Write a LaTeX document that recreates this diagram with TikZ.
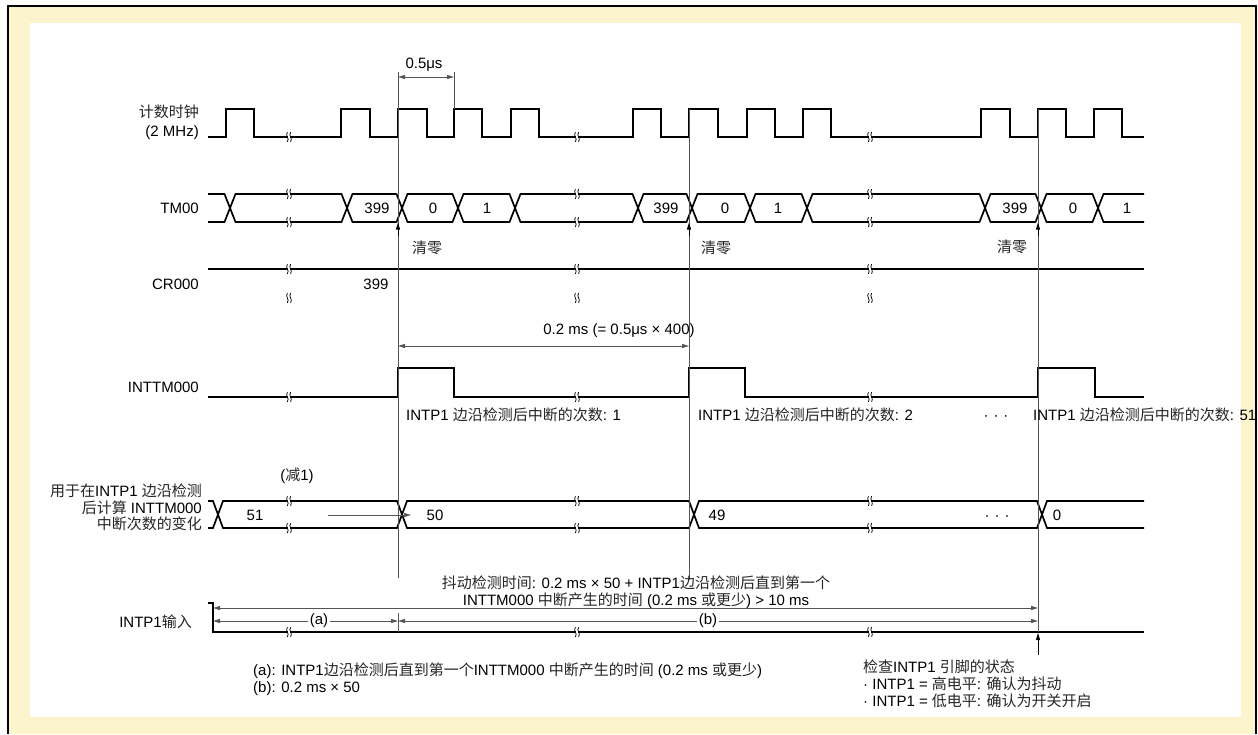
\documentclass[tikz,border=0pt]{standalone}
\usepackage{fontspec}
\setmainfont{Liberation Sans}
\newfontfamily\cjkfont{Noto Sans CJK SC}
\usetikzlibrary{arrows.meta}
\definecolor{frameyellow}{RGB}{251,244,205}
\definecolor{thingray}{RGB}{85,85,85}
\newcommand{\zh}[1]{{\cjkfont\color{black!85}#1}}
\begin{document}
\begin{tikzpicture}[x=1pt,y=-1pt,
  font=\fontsize{15}{17}\selectfont,
  sig/.style={line width=1.7pt, line join=miter, line cap=butt},
  thinline/.style={line width=0.9pt, draw=thingray},
  tipA/.tip={Triangle[length=7pt,width=4pt]},
  dim/.style={thinline, tipA-tipA},
  uparrow/.style={thinline, -tipA},
  lbl/.style={inner sep=0pt, anchor=base east},
  txt/.style={inner sep=0pt, anchor=base},
  ltxt/.style={inner sep=0pt, anchor=base west},
  brk/.pic={
    \fill[white] (-0.9,-4.5) rectangle (0.9,4.5);
    \draw[line width=0.75pt] (-1.6,-4.8) .. controls (-4.2,-1.2) and (1.0,1.2) .. (-1.6,4.8);
    \draw[line width=0.75pt] (1.6,-4.8) .. controls (-1.0,-1.2) and (4.2,1.2) .. (1.6,4.8);
  },
]
\useasboundingbox (0,0) rectangle (1258,734);
% frame
\fill[white] (0,0) rectangle (1258,734);
\fill[frameyellow] (8,6) rectangle (1256,734);
\fill[white] (30,23) rectangle (1241,717);
\draw[line width=2pt] (8,734) -- (8,6) -- (1256,6) -- (1256,734);

% ---------------- counting clock
\draw[sig] (208,137) -- (226,137) -- (226,109) -- (254,109) -- (254,137) -- (341,137) -- (341,109) -- (370,109) -- (370,137)
  -- (398,137) -- (398,109) -- (427,109) -- (427,137) -- (454,137) -- (454,109) -- (482,109) -- (482,137)
  -- (511,137) -- (511,109) -- (539,109) -- (539,137) -- (633,137) -- (633,109) -- (661,109) -- (661,137)
  -- (689,137) -- (689,109) -- (718,109) -- (718,137) -- (747,137) -- (747,109) -- (775,109) -- (775,137)
  -- (803,137) -- (803,109) -- (831,109) -- (831,137) -- (981,137) -- (981,109) -- (1010,109) -- (1010,137)
  -- (1038,137) -- (1038,109) -- (1066,109) -- (1066,137) -- (1094,137) -- (1094,109) -- (1122,109) -- (1122,137) -- (1144,137);

% ---------------- TM00 bus
\draw[sig] (208,194) -- (224.5,194) -- (235.5,222) -- (341.5,222) -- (352.5,194) -- (396.5,194) -- (407.5,222)
  -- (452.5,222) -- (463.5,194) -- (509.5,194) -- (520.5,222) -- (632.5,222) -- (643.5,194) -- (686.5,194)
  -- (697.5,222) -- (744.5,222) -- (755.5,194) -- (801.5,194) -- (812.5,222) -- (979.5,222) -- (990.5,194)
  -- (1035.5,194) -- (1046.5,222) -- (1092.5,222) -- (1103.5,194) -- (1144,194);
\draw[sig] (208,222) -- (224.5,222) -- (235.5,194) -- (341.5,194) -- (352.5,222) -- (396.5,222) -- (407.5,194)
  -- (452.5,194) -- (463.5,222) -- (509.5,222) -- (520.5,194) -- (632.5,194) -- (643.5,222) -- (686.5,222)
  -- (697.5,194) -- (744.5,194) -- (755.5,222) -- (801.5,222) -- (812.5,194) -- (979.5,194) -- (990.5,222)
  -- (1035.5,222) -- (1046.5,194) -- (1092.5,194) -- (1103.5,222) -- (1144,222);

% ---------------- CR000
\draw[sig] (208,269) -- (1144,269);

% ---------------- INTTM000
\draw[sig] (208,397) -- (398,397) -- (398,368) -- (454,368) -- (454,397) -- (689,397) -- (689,368) -- (745,368)
  -- (745,397) -- (1038,397) -- (1038,368) -- (1095,368) -- (1095,397) -- (1144,397);

% ---------------- counter bus
\draw[sig] (208,501) -- (213,501) -- (223,528) -- (397,528) -- (407,501) -- (689,501) -- (699,528) -- (1037,528) -- (1047,501) -- (1144,501);
\draw[sig] (208,528) -- (213,528) -- (223,501) -- (397,501) -- (407,528) -- (689,528) -- (699,501) -- (1037,501) -- (1047,528) -- (1144,528);

% ---------------- INTP1 input
\draw[sig] (208,603) -- (213,603) -- (213,632) -- (1144,632);

% ---------------- break marks
\foreach \bx in {289,577,870} {
  \foreach \by in {137,194,222,269,298,397,501,528,632} {
    \pic at (\bx,\by) {brk};
  }
}

% ---------------- vertical reference lines
\coordinate (v1top) at (398,72);
\coordinate (v1bot) at (398,578);
\coordinate (v2top) at (689,109);
\coordinate (v2bot) at (689,580);
\coordinate (v3top) at (1038,109);
\coordinate (v3bot) at (1038,632);
\coordinate (t2top) at (454,72);
\coordinate (t2bot) at (454,109);
\draw[thinline] (v1top) -- (v1bot);
\draw[thinline] (v2top) -- (v2bot);
\draw[thinline] (v3top) -- (v3bot);
\draw[thinline] (t2top) -- (t2bot);

% clear arrows
\draw[uparrow, draw=black] (398,236) -- (398,222.5);
\draw[uparrow, draw=black] (689,236) -- (689,222.5);
\draw[uparrow, draw=black] (1038,236) -- (1038,222.5);
\draw[uparrow, draw=black] (1038,655) -- (1038,633);

% dimension arrows
\draw[dim] (398,77) -- (454,77);
\draw[dim] (398,346) -- (689,346);
\draw[dim] (213,608) -- (1038,608);
\draw[dim] (213,621) -- (398,621);
\draw[dim] (398,621) -- (1038,621);
\draw[thinline] (398,613) -- (398,632);
\draw[thinline, -tipA, draw=thingray] (328,515) -- (411,515);

% ---------------- labels
\node[lbl] (clkA) at (199,117.5) {\zh{计数时钟}};
\node[lbl] (clkB) at (199,136) {(2 MHz)};
\node[lbl] (tm) at (199,213.5) {TM00};
\node[lbl] (cr) at (199,289.5) {CR000};
\node[lbl] (inttm) at (199,392.5) {INTTM000};
\node[lbl] (cntA) at (202,496.5) {\zh{用于在}INTP1 \zh{边沿检测}};
\node[lbl] (cntB) at (202,513.5) {\zh{后计算} INTTM000};
\node[lbl] (cntC) at (202,529.5) {\zh{中断次数的变化}};
\node[lbl] (intp) at (192,627.5) {INTP1\zh{输入}};

% bus values
\node[txt] (v399a) at (377,213.5) {399};
\node[txt] (v0a) at (433,213.5) {0};
\node[txt] (v1a) at (487,213.5) {1};
\node[txt] (v399b) at (666,213.5) {399};
\node[txt] (v0b) at (725,213.5) {0};
\node[txt] (v1b) at (778,213.5) {1};
\node[txt] (v399c) at (1015,213.5) {399};
\node[txt] (v0c) at (1073,213.5) {0};
\node[txt] (v1c) at (1127,213.5) {1};

\node[txt] (clrA) at (427,253.5) {\zh{清零}};
\node[txt] (clrB) at (716,253.5) {\zh{清零}};
\node[txt] (clrC) at (1012,252.5) {\zh{清零}};

\node[txt] (cr399) at (376,289.5) {399};

\node[txt] (half) at (424,68.5) {0.5μs};
\node[txt] (twoms) at (619,334.5) {0.2 ms (= 0.5μs × 400)};

\node[ltxt] (n1) at (406,420.5) {INTP1 \zh{边沿检测后中断的次数}: 1};
\node[ltxt] (n2) at (698,420.5) {INTP1 \zh{边沿检测后中断的次数}: 2};
\node[txt] (dotsA) at (996,420.5) {·\,\,·\,\,·};
\node[ltxt] (n51) at (1033,420.5) {INTP1 \zh{边沿检测后中断的次数}: 51};

\node[txt] (dec) at (297,480.5) {(\zh{减}1)};
\node[txt] (c51) at (255,520.5) {51};
\node[txt] (c50) at (435,520.5) {50};
\node[txt] (c49) at (717,520.5) {49};
\node[txt] (c0) at (1057,520.5) {0};
\node[txt] (dotsB) at (997,520.5) {·\,\,·\,\,·};

\node[txt] (jit1) at (636,588.5) {\zh{抖动检测时间}: 0.2 ms × 50 + INTP1\zh{边沿检测后直到第一个}};
\node[txt] (jit2) at (636,605.5) {INTTM000 \zh{中断产生的时间} (0.2 ms \zh{或更少}) > 10 ms};

\node[inner sep=2pt, fill=white] (la) at (319,621) {(a)};
\node[inner sep=2pt, fill=white] (lb) at (708,621) {(b)};

\node[ltxt] (fa) at (253,675.5) {(a): INTP1\zh{边沿检测后直到第一个}INTTM000 \zh{中断产生的时间} (0.2 ms \zh{或更少})};
\node[ltxt] (fb) at (253,692.5) {(b): 0.2 ms × 50};

\node[ltxt] (chk1) at (863,672.5) {\zh{检查}INTP1 \zh{引脚的状态}};
\node[ltxt] (chk2) at (863,689.5) {· INTP1 = \zh{高电平}: \zh{确认为抖动}};
\node[ltxt] (chk3) at (863,706.5) {· INTP1 = \zh{低电平}: \zh{确认为开关开启}};
\end{tikzpicture}
\end{document}
